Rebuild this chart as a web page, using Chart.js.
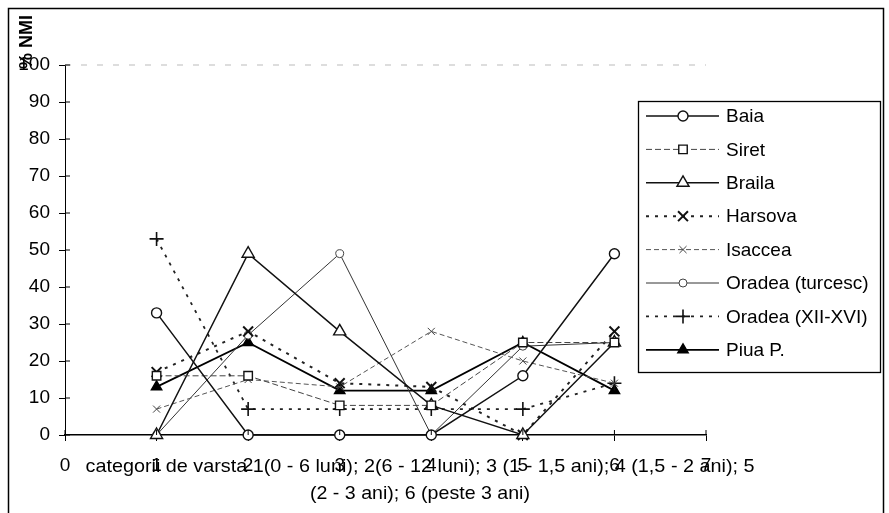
<!DOCTYPE html>
<html>
<head>
<meta charset="utf-8">
<script src="https://cdn.jsdelivr.net/npm/chart.js@4/dist/chart.umd.min.js"></script>
<style>
  body { margin: 0; background: #fff; }
  #wrap { width: 889px; height: 513px; }
</style>
</head>
<body>
<div id="wrap"><canvas id="nmiChart" width="889" height="513"></canvas></div>
<script>
// categorii de varsta (x positions) and tick labels
const categories = [1, 2, 3, 4, 5, 6];
const xTicks = [0, 1, 2, 3, 4, 5, 6, 7];
const yTicks = [0, 10, 20, 30, 40, 50, 60, 70, 80, 90, 100];

// % NMI per site
const baia = [33, 0, 0, 0, 16, 49];
const siret = [16, 16, 8, 8, 25, 25];
const braila = [0, 49, 28, 8, 0, 25];
const harsova = [17, 28, 14, 13, 0, 28];
const isaccea = [7, 15, 13, 28, 20, 14];
const oradeaTurc = [0, 27, 49, 0, 24, 25];
const oradeaXII = [53, 7, 7, 7, 7, 14];
const piua = [13, 25, 12, 12, 25, 12];

const xTitle1 = 'categorii de varsta 1(0 - 6 luni); 2(6 - 12 luni); 3 (1 - 1,5 ani); 4 (1,5 - 2 ani); 5';
const xTitle2 = '(2 - 3 ani); 6 (peste 3 ani)';
const yTitle = '% NMI';

const FONT = '"Liberation Sans", Arial, sans-serif';

function pts(arr) {
  return categories.map((c, i) => ({ x: c, y: arr[i] }));
}

function series(label, arr, style) {
  return Object.assign({
    label: label,
    data: pts(arr),
    borderColor: '#111',
    borderWidth: 1.5,
    pointBorderColor: '#111',
    pointBackgroundColor: '#fff',
    pointBorderWidth: 1.4,
    pointRadius: 5,
    tension: 0,
    clip: false
  }, style);
}

const data = {
  datasets: [
    series('Baia', baia, { pointStyle: 'circle', pointRadius: 5 }),
    series('Siret', siret, { borderColor: '#444', borderWidth: 1, borderDash: [6, 3], pointStyle: 'rect', pointRadius: 6 }),
    series('Braila', braila, { pointStyle: 'triangle', pointRadius: 7 }),
    series('Harsova', harsova, { borderColor: '#222', borderWidth: 2, borderDash: [3, 6], pointStyle: 'crossRot', pointRadius: 7, pointBorderWidth: 2 }),
    series('Isaccea', isaccea, { borderColor: '#555', borderWidth: 1, borderDash: [5, 3], pointStyle: 'crossRot', pointRadius: 5, pointBorderColor: '#444', pointBorderWidth: 1 }),
    series('Oradea (turcesc)', oradeaTurc, { borderColor: '#333', borderWidth: 1, pointStyle: 'circle', pointRadius: 4, pointBorderColor: '#444', pointBorderWidth: 1 }),
    series('Oradea (XII-XVI)', oradeaXII, { borderColor: '#222', borderWidth: 1.8, borderDash: [3, 6], pointStyle: 'cross', pointRadius: 7, pointBorderWidth: 1.6 }),
    series('Piua P.', piua, { borderColor: '#000', borderWidth: 1.8, pointStyle: 'triangle', pointRadius: 6, pointBackgroundColor: '#000', pointBorderColor: '#000' })
  ]
};

// text squeezed or stretched to a given width, centred on cx
function fitText(ctx, txt, cx, y, width) {
  const w = ctx.measureText(txt).width;
  ctx.save();
  ctx.translate(cx, y);
  ctx.scale(width / w, 1);
  ctx.fillText(txt, 0, 0);
  ctx.restore();
}

// frame, titles, inner tick marks and the boxed legend
const decor = {
  id: 'decor',
  afterDraw(chart) {
    const ctx = chart.ctx;
    const xs = chart.scales.x, ys = chart.scales.y;
    const ca = chart.chartArea;
    ctx.save();
    ctx.strokeStyle = '#000';
    ctx.lineWidth = 1.5;
    ctx.strokeRect(8.5, 8.5, 875, 520);

    // faint top line at 100
    ctx.strokeStyle = '#bbb';
    ctx.lineWidth = 1;
    ctx.setLineDash([6, 10]);
    ctx.beginPath();
    ctx.moveTo(ca.left, ys.getPixelForValue(100));
    ctx.lineTo(ca.right, ys.getPixelForValue(100));
    ctx.stroke();
    ctx.setLineDash([]);

    // inner halves of tick marks
    ctx.strokeStyle = '#000';
    ctx.lineWidth = 1;
    yTicks.forEach(v => {
      const y = ys.getPixelForValue(v);
      ctx.beginPath(); ctx.moveTo(ca.left, y); ctx.lineTo(ca.left + 5, y); ctx.stroke();
    });
    xTicks.forEach(v => {
      const x = xs.getPixelForValue(v);
      ctx.beginPath(); ctx.moveTo(x, ca.bottom); ctx.lineTo(x, ca.bottom - 5); ctx.stroke();
    });

    // y title, rotated
    ctx.fillStyle = '#000';
    ctx.font = 'bold 18px ' + FONT;
    ctx.translate(27, 69);
    ctx.rotate(-Math.PI / 2);
    ctx.textAlign = 'left';
    ctx.textBaseline = 'middle';
    ctx.fillText(yTitle, 0, 0);
    ctx.setTransform(1, 0, 0, 1, 0, 0);

    // x title over the tick labels
    ctx.font = '19px ' + FONT;
    ctx.textAlign = 'center';
    ctx.textBaseline = 'middle';
    fitText(ctx, xTitle1, 420, 467, 669);
    fitText(ctx, xTitle2, 420, 494, 220);

    // legend box
    const bx = 638, by = 101, bw = 242, bh = 271;
    ctx.fillStyle = '#fff';
    ctx.fillRect(bx, by, bw, bh);
    ctx.strokeStyle = '#000';
    ctx.lineWidth = 1.3;
    ctx.strokeRect(bx + 0.5, by + 0.5, bw, bh);
    ctx.font = '19px ' + FONT;
    ctx.textAlign = 'left';
    chart.data.datasets.forEach((ds, i) => {
      const y = 116 + i * 33.4;
      ctx.strokeStyle = ds.borderColor;
      ctx.lineWidth = ds.borderWidth;
      ctx.setLineDash(ds.borderDash || []);
      ctx.beginPath(); ctx.moveTo(646, y); ctx.lineTo(719, y); ctx.stroke();
      ctx.setLineDash([]);
      const opts = {
        pointStyle: ds.pointStyle,
        radius: ds.pointRadius,
        rotation: 0,
        borderWidth: ds.pointBorderWidth
      };
      ctx.strokeStyle = ds.pointBorderColor;
      ctx.fillStyle = ds.pointBackgroundColor;
      ctx.lineWidth = ds.pointBorderWidth;
      Chart.helpers.drawPoint(ctx, opts, 683, y);
      ctx.fillStyle = '#000';
      ctx.fillText(ds.label, 726, y + 1);
    });
    ctx.restore();
  }
};

const config = {
  type: 'line',
  data: data,
  options: {
    responsive: false,
    animation: false,
    layout: { padding: { left: 0, top: 65, right: 183, bottom: 0 } },
    plugins: { legend: { display: false }, tooltip: { enabled: false } },
    scales: {
      x: {
        type: 'linear',
        min: 0,
        max: 7,
        afterBuildTicks(scale) { scale.ticks = xTicks.map(v => ({ value: v })); },
        afterFit(scale) { scale.height = 78; },
        grid: { drawOnChartArea: false, color: '#000', tickLength: 6 },
        border: { color: '#000', width: 1.5 },
        ticks: { color: '#000', padding: 13, font: { size: 19, family: FONT }, maxRotation: 0 }
      },
      y: {
        min: 0,
        max: 100,
        afterBuildTicks(scale) { scale.ticks = yTicks.map(v => ({ value: v })); },
        afterFit(scale) { scale.width = 65; },
        grid: { drawOnChartArea: false, color: '#000', tickLength: 6 },
        border: { color: '#000', width: 1, dash: [2, 2] },
        ticks: { color: '#000', padding: 9, font: { size: 19, family: FONT } }
      }
    }
  },
  plugins: [decor]
};

window.onload = function() {
  var ctx = document.getElementById('nmiChart').getContext('2d');
  window.nmiChart = new Chart(ctx, config);
};
</script>
</body>
</html>
